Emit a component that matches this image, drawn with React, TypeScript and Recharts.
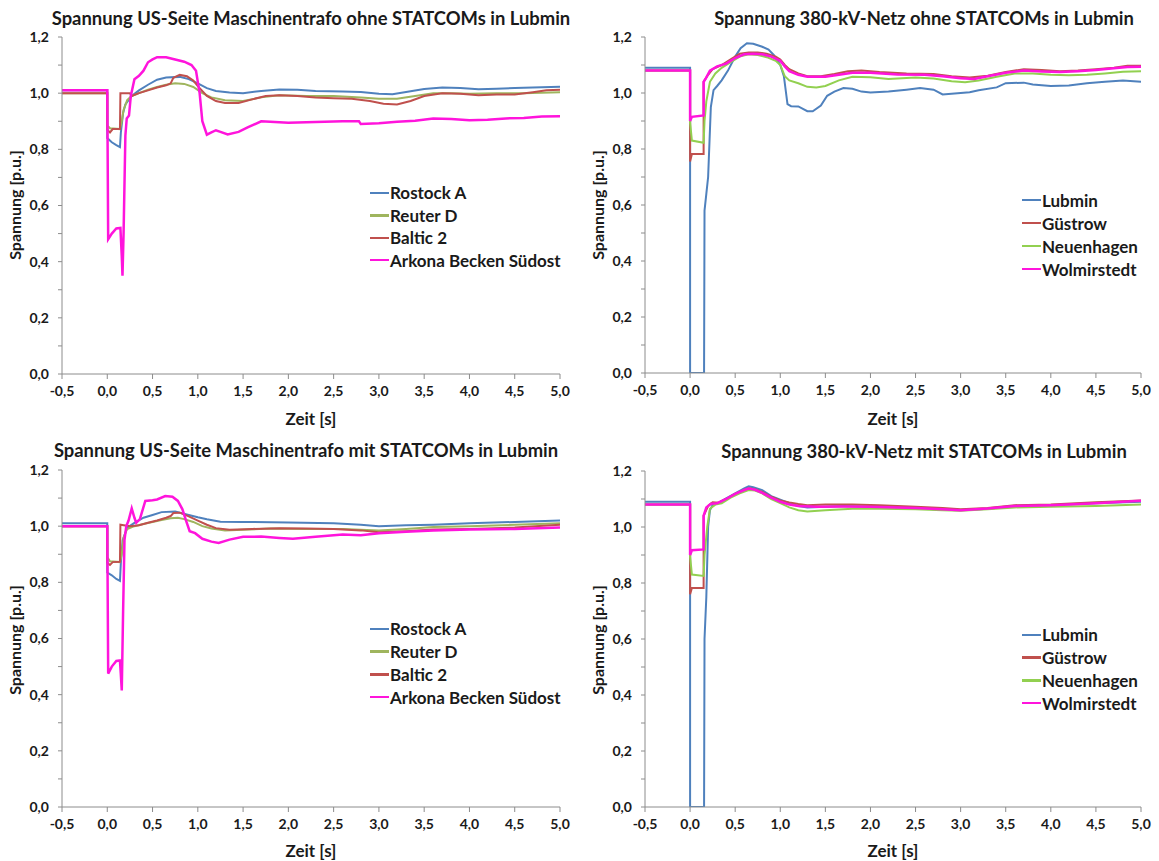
import React from 'react';
import { LineChart, Line, XAxis, YAxis, Legend } from 'recharts';

type Pt = [number, number];

const timeTicks = [-0.5, 0, 0.5, 1, 1.5, 2, 2.5, 3, 3.5, 4, 4.5, 5];
const voltTicks = [0, 0.1, 0.2, 0.3, 0.4, 0.5, 0.6, 0.7, 0.8, 0.9, 1, 1.1, 1.2];

// US-Seite Maschinentrafo, ohne STATCOMs
const rostockOhne: Pt[] = [[-0.5,1.01],[0,1.01],[0,0.84],[0.05,0.825],[0.1,0.815],[0.14,0.808],[0.15,0.86],[0.175,0.93],[0.2,0.96],[0.27,0.99],[0.35,1.01],[0.45,1.03],[0.55,1.048],[0.65,1.056],[0.8,1.058],[0.9,1.05],[1.0,1.035],[1.1,1.018],[1.2,1.008],[1.35,1.002],[1.5,1.0],[1.7,1.008],[1.9,1.013],[2.1,1.012],[2.3,1.008],[2.6,1.006],[2.8,1.004],[3.0,0.998],[3.15,0.996],[3.3,1.004],[3.5,1.015],[3.7,1.02],[3.9,1.018],[4.1,1.014],[4.3,1.016],[4.5,1.018],[4.7,1.02],[5.0,1.023]];
const reuterOhne: Pt[] = [[-0.5,1.0],[0,1.0],[0,0.885],[0.03,0.875],[0.14,0.872],[0.16,0.9],[0.18,0.94],[0.22,0.975],[0.27,0.99],[0.35,1.0],[0.45,1.012],[0.55,1.022],[0.65,1.03],[0.75,1.035],[0.85,1.033],[0.95,1.022],[1.05,1.0],[1.15,0.985],[1.3,0.975],[1.5,0.972],[1.7,0.985],[1.9,0.993],[2.2,0.99],[2.5,0.99],[2.8,0.985],[3.0,0.98],[3.2,0.98],[3.4,0.99],[3.6,1.0],[3.8,1.0],[4.0,0.998],[4.3,1.0],[4.6,1.0],[5.0,1.003]];
const balticOhne: Pt[] = [[-0.5,1.0],[0,1.0],[0,0.87],[0.03,0.86],[0.06,0.872],[0.14,0.872],[0.145,1.0],[0.25,1.0],[0.27,0.99],[0.35,1.0],[0.45,1.01],[0.55,1.02],[0.65,1.028],[0.7,1.035],[0.73,1.055],[0.8,1.065],[0.88,1.06],[0.95,1.045],[1.0,1.025],[1.1,0.99],[1.2,0.972],[1.3,0.965],[1.45,0.965],[1.6,0.978],[1.75,0.99],[1.9,0.993],[2.1,0.99],[2.3,0.985],[2.5,0.982],[2.7,0.98],[2.9,0.972],[3.05,0.962],[3.2,0.96],[3.35,0.972],[3.5,0.99],[3.7,1.0],[3.9,0.998],[4.1,0.993],[4.3,0.995],[4.5,0.995],[4.7,1.003],[4.85,1.01],[5.0,1.012]];
const arkonaOhne: Pt[] = [[-0.5,1.01],[0,1.01],[0.01,0.48],[0.05,0.5],[0.1,0.518],[0.145,0.52],[0.16,0.42],[0.168,0.35],[0.18,0.5],[0.2,0.85],[0.215,0.91],[0.24,0.92],[0.26,0.99],[0.3,1.05],[0.35,1.062],[0.4,1.08],[0.45,1.11],[0.5,1.12],[0.55,1.128],[0.65,1.128],[0.75,1.12],[0.85,1.112],[0.93,1.1],[0.98,1.08],[1.02,1.0],[1.05,0.9],[1.1,0.852],[1.15,0.86],[1.2,0.868],[1.25,0.862],[1.33,0.853],[1.45,0.862],[1.55,0.878],[1.7,0.9],[1.8,0.898],[2.0,0.895],[2.3,0.897],[2.6,0.9],[2.78,0.9],[2.8,0.89],[3.0,0.893],[3.2,0.898],[3.4,0.902],[3.6,0.91],[3.8,0.908],[4.0,0.904],[4.2,0.905],[4.4,0.91],[4.6,0.912],[4.8,0.917],[5.0,0.918]];

// 380-kV-Netz, ohne STATCOMs
const lubminOhne: Pt[] = [[-0.5,1.09],[0,1.09],[0,0],[0.155,0],[0.16,0.58],[0.18,0.64],[0.2,0.7],[0.23,0.95],[0.26,1.01],[0.3,1.025],[0.35,1.045],[0.42,1.08],[0.5,1.13],[0.56,1.16],[0.63,1.178],[0.7,1.176],[0.8,1.165],[0.87,1.155],[0.93,1.135],[1.0,1.1],[1.04,1.06],[1.08,0.96],[1.12,0.953],[1.2,0.952],[1.3,0.935],[1.36,0.935],[1.45,0.955],[1.52,0.99],[1.6,1.005],[1.7,1.018],[1.8,1.015],[1.9,1.005],[2.0,1.002],[2.2,1.005],[2.4,1.012],[2.55,1.018],[2.7,1.012],[2.8,0.995],[3.0,1.0],[3.1,1.003],[3.2,1.01],[3.4,1.02],[3.5,1.035],[3.7,1.037],[3.8,1.03],[4.0,1.025],[4.2,1.027],[4.4,1.035],[4.6,1.04],[4.8,1.045],[5.0,1.04]];
const guestrowOhne: Pt[] = [[-0.5,1.08],[0,1.08],[0,0.755],[0.02,0.782],[0.15,0.782],[0.15,1.04],[0.2,1.065],[0.25,1.085],[0.35,1.1],[0.45,1.12],[0.55,1.14],[0.65,1.145],[0.75,1.145],[0.85,1.14],[0.95,1.13],[1.0,1.12],[1.05,1.1],[1.1,1.085],[1.2,1.07],[1.3,1.06],[1.45,1.06],[1.6,1.068],[1.75,1.078],[1.9,1.08],[2.1,1.075],[2.4,1.07],[2.7,1.068],[2.9,1.06],[3.1,1.055],[3.3,1.062],[3.5,1.075],[3.7,1.085],[3.9,1.082],[4.1,1.078],[4.3,1.08],[4.5,1.085],[4.7,1.09],[4.85,1.097],[5.0,1.097]];
const neuenhagenOhne: Pt[] = [[-0.5,1.08],[0,1.08],[0,0.895],[0.02,0.83],[0.15,0.822],[0.16,0.9],[0.18,0.97],[0.22,1.04],[0.28,1.07],[0.35,1.09],[0.45,1.11],[0.55,1.13],[0.65,1.138],[0.75,1.136],[0.85,1.128],[0.95,1.115],[1.0,1.1],[1.05,1.06],[1.1,1.045],[1.2,1.035],[1.3,1.022],[1.4,1.02],[1.5,1.025],[1.65,1.045],[1.8,1.058],[2.0,1.056],[2.2,1.05],[2.5,1.055],[2.7,1.052],[2.9,1.042],[3.05,1.038],[3.2,1.045],[3.4,1.058],[3.6,1.07],[3.8,1.07],[4.0,1.065],[4.2,1.063],[4.4,1.065],[4.6,1.07],[4.8,1.076],[5.0,1.078]];
const wolmirstedtOhne: Pt[] = [[-0.5,1.08],[0,1.08],[0,0.9],[0.02,0.915],[0.15,0.92],[0.15,1.04],[0.17,1.05],[0.22,1.08],[0.3,1.095],[0.4,1.105],[0.5,1.125],[0.6,1.138],[0.7,1.14],[0.8,1.138],[0.9,1.13],[1.0,1.115],[1.05,1.095],[1.1,1.078],[1.2,1.065],[1.3,1.058],[1.5,1.058],[1.65,1.065],[1.8,1.072],[2.0,1.072],[2.3,1.066],[2.6,1.065],[2.8,1.06],[3.0,1.053],[3.15,1.05],[3.3,1.06],[3.5,1.072],[3.7,1.08],[3.9,1.077],[4.1,1.075],[4.3,1.078],[4.5,1.082],[4.7,1.088],[4.85,1.093],[5.0,1.094]];

// US-Seite Maschinentrafo, mit STATCOMs
const rostockMit: Pt[] = [[-0.5,1.01],[0,1.01],[0,0.835],[0.05,0.825],[0.1,0.812],[0.14,0.805],[0.15,0.87],[0.17,0.95],[0.22,0.995],[0.3,1.012],[0.4,1.03],[0.5,1.04],[0.6,1.05],[0.75,1.052],[0.9,1.04],[1.0,1.032],[1.1,1.025],[1.25,1.016],[1.5,1.015],[2.0,1.013],[2.5,1.01],[2.8,1.005],[3.0,1.0],[3.3,1.003],[3.6,1.005],[4.0,1.01],[4.5,1.015],[5.0,1.02]];
const reuterMit: Pt[] = [[-0.5,1.0],[0,1.0],[0,0.89],[0.03,0.875],[0.14,0.872],[0.16,0.9],[0.18,0.96],[0.22,0.99],[0.3,1.0],[0.4,1.008],[0.5,1.015],[0.6,1.022],[0.7,1.028],[0.78,1.03],[0.85,1.025],[0.95,1.015],[1.05,1.0],[1.15,0.992],[1.3,0.985],[1.5,0.987],[1.8,0.992],[2.2,0.99],[2.6,0.99],[3.0,0.985],[3.3,0.99],[3.6,0.997],[4.0,1.0],[4.5,1.005],[5.0,1.01]];
const balticMit: Pt[] = [[-0.5,1.0],[0,1.0],[0,0.87],[0.03,0.862],[0.06,0.872],[0.14,0.873],[0.145,1.005],[0.25,1.0],[0.35,1.003],[0.45,1.012],[0.55,1.02],[0.65,1.03],[0.7,1.036],[0.73,1.047],[0.8,1.048],[0.9,1.035],[1.0,1.02],[1.1,1.005],[1.2,0.993],[1.35,0.987],[1.6,0.99],[1.9,0.993],[2.2,0.992],[2.5,0.99],[2.8,0.985],[3.0,0.978],[3.3,0.982],[3.6,0.988],[4.0,0.99],[4.5,0.995],[5.0,1.005]];
const arkonaMit: Pt[] = [[-0.5,1.0],[0,1.0],[0.01,0.475],[0.05,0.5],[0.1,0.52],[0.14,0.522],[0.15,0.47],[0.16,0.415],[0.175,0.7],[0.19,0.95],[0.21,1.0],[0.235,1.02],[0.27,1.063],[0.3,1.03],[0.32,1.012],[0.36,1.025],[0.42,1.09],[0.5,1.092],[0.55,1.095],[0.64,1.107],[0.72,1.105],[0.78,1.09],[0.83,1.06],[0.87,1.02],[0.91,0.982],[0.97,0.975],[1.05,0.955],[1.15,0.945],[1.23,0.94],[1.35,0.952],[1.5,0.962],[1.7,0.963],[1.9,0.958],[2.05,0.955],[2.3,0.962],[2.6,0.97],[2.8,0.968],[3.0,0.975],[3.3,0.98],[3.6,0.985],[4.0,0.988],[4.5,0.99],[5.0,0.995]];

// 380-kV-Netz, mit STATCOMs
const lubminMit: Pt[] = [[-0.5,1.09],[0,1.09],[0,0],[0.155,0],[0.16,0.6],[0.18,0.75],[0.2,1.0],[0.22,1.06],[0.26,1.085],[0.32,1.087],[0.4,1.102],[0.5,1.12],[0.6,1.138],[0.65,1.145],[0.7,1.142],[0.8,1.132],[0.9,1.11],[1.0,1.098],[1.1,1.085],[1.2,1.075],[1.3,1.07],[1.5,1.072],[1.7,1.075],[2.0,1.072],[2.5,1.068],[2.8,1.062],[3.0,1.06],[3.3,1.065],[3.6,1.075],[4.0,1.078],[4.5,1.085],[5.0,1.09]];
const guestrowMit: Pt[] = [[-0.5,1.08],[0,1.08],[0,0.76],[0.02,0.782],[0.15,0.782],[0.15,1.04],[0.2,1.075],[0.25,1.088],[0.32,1.087],[0.4,1.1],[0.5,1.118],[0.6,1.132],[0.65,1.138],[0.72,1.135],[0.8,1.125],[0.9,1.108],[1.0,1.095],[1.1,1.088],[1.2,1.082],[1.3,1.078],[1.5,1.08],[1.8,1.08],[2.1,1.078],[2.5,1.072],[2.8,1.068],[3.0,1.063],[3.3,1.068],[3.6,1.078],[4.0,1.08],[4.5,1.088],[5.0,1.095]];
const neuenhagenMit: Pt[] = [[-0.5,1.08],[0,1.08],[0,0.895],[0.02,0.83],[0.15,0.825],[0.16,0.9],[0.19,1.0],[0.22,1.065],[0.28,1.08],[0.35,1.085],[0.45,1.105],[0.55,1.12],[0.65,1.132],[0.72,1.13],[0.8,1.12],[0.9,1.1],[1.0,1.085],[1.1,1.07],[1.2,1.06],[1.3,1.055],[1.5,1.06],[1.8,1.065],[2.1,1.065],[2.5,1.063],[2.8,1.06],[3.0,1.058],[3.3,1.063],[3.6,1.07],[4.0,1.072],[4.5,1.075],[5.0,1.08]];
const wolmirstedtMit: Pt[] = [[-0.5,1.08],[0,1.08],[0,0.9],[0.02,0.917],[0.15,0.92],[0.15,1.04],[0.18,1.07],[0.23,1.083],[0.3,1.085],[0.4,1.1],[0.5,1.118],[0.6,1.132],[0.65,1.137],[0.72,1.133],[0.8,1.122],[0.9,1.105],[1.0,1.09],[1.1,1.08],[1.2,1.075],[1.4,1.072],[1.7,1.073],[2.0,1.072],[2.5,1.068],[2.8,1.063],[3.0,1.06],[3.3,1.066],[3.6,1.075],[4.0,1.078],[4.5,1.085],[5.0,1.094]];

const BLUE = '#4F81BD';
const RED = '#C0504D';
const OLIVE = '#9FB55E';
const LIME = '#92D050';
const PINK = '#FF14DC';
const AXIS = '#8C8C8C';
const FONT = 'Lato, "Open Sans", sans-serif';

type Series = { name: string; color: string; width: number; points: Pt[] };

const fmtX = (v: number) => v.toFixed(1).replace('.', ',');
const fmtY = (v: number) => (Math.round(v * 10) % 2 === 0 ? v.toFixed(1).replace('.', ',') : '');

function Txt({ x, y, size, rotate, children }: { x: number; y: number; size: number; rotate?: boolean; children: React.ReactNode }) {
  return (
    <div
      style={{
        position: 'absolute',
        left: x,
        top: y,
        transform: `translate(-50%, -50%)${rotate ? ' rotate(-90deg)' : ''}`,
        whiteSpace: 'nowrap',
        fontFamily: FONT,
        fontWeight: 700,
        fontSize: size,
        color: '#1a1a1a',
        lineHeight: 1,
      }}
    >
      {children}
    </div>
  );
}

type PanelProps = {
  left: number;
  top: number;
  width: number;
  height: number;
  margin: { top: number; right: number; bottom: number; left: number };
  series: Series[];
  legendX: number;
  legendY: number;
  rowH: number;
};

function Panel({ left, top, width, height, margin, series, legendX, legendY, rowH }: PanelProps) {
  const renderLegend = () => (
    <div style={{ fontFamily: FONT, fontWeight: 700, fontSize: 17, color: '#1a1a1a' }}>
      {series.map((s) => (
        <div key={s.name} style={{ display: 'flex', alignItems: 'center', height: rowH }}>
          <span style={{ display: 'inline-block', width: 19, height: 2.5, background: s.color, marginRight: 1 }} />
          <span>{s.name}</span>
        </div>
      ))}
    </div>
  );
  return (
    <div style={{ position: 'absolute', left, top }}>
      <LineChart width={width} height={height} margin={margin}>
        <XAxis
          type="number"
          dataKey="t"
          domain={[-0.5, 5]}
          ticks={timeTicks}
          interval={0}
          allowDataOverflow
          tickFormatter={fmtX}
          height={30}
          tickSize={5}
          tickMargin={7}
          stroke={AXIS}
          tick={{ fill: '#1a1a1a', fontSize: 14, fontWeight: 700, fontFamily: FONT }}
        />
        <YAxis
          type="number"
          dataKey="v"
          domain={[0, 1.2]}
          ticks={voltTicks}
          interval={0}
          allowDataOverflow
          tickFormatter={fmtY}
          width={40}
          tickSize={4}
          tickMargin={9}
          stroke={AXIS}
          tick={{ fill: '#1a1a1a', fontSize: 14, fontWeight: 700, fontFamily: FONT }}
        />
        {series.map((s) => (
          <Line
            key={s.name}
            name={s.name}
            data={s.points.map(([t, v]) => ({ t, v }))}
            dataKey="v"
            type="linear"
            stroke={s.color}
            strokeWidth={s.width}
            dot={false}
            activeDot={false}
            isAnimationActive={false}
          />
        ))}
        <Legend
          layout="vertical"
          align="center"
          verticalAlign="middle"
          content={renderLegend}
          wrapperStyle={{ left: legendX - left, top: legendY - top - rowH / 2, width: 'auto' }}
        />
      </LineChart>
    </div>
  );
}

const usOhne: Series[] = [
  { name: 'Rostock A', color: BLUE, width: 2, points: rostockOhne },
  { name: 'Reuter D', color: OLIVE, width: 2, points: reuterOhne },
  { name: 'Baltic 2', color: RED, width: 2, points: balticOhne },
  { name: 'Arkona Becken Südost', color: PINK, width: 2.5, points: arkonaOhne },
];
const netzOhne: Series[] = [
  { name: 'Lubmin', color: BLUE, width: 2, points: lubminOhne },
  { name: 'Güstrow', color: RED, width: 2, points: guestrowOhne },
  { name: 'Neuenhagen', color: LIME, width: 2, points: neuenhagenOhne },
  { name: 'Wolmirstedt', color: PINK, width: 2.5, points: wolmirstedtOhne },
];
const usMit: Series[] = [
  { name: 'Rostock A', color: BLUE, width: 2, points: rostockMit },
  { name: 'Reuter D', color: OLIVE, width: 2, points: reuterMit },
  { name: 'Baltic 2', color: RED, width: 2, points: balticMit },
  { name: 'Arkona Becken Südost', color: PINK, width: 2.5, points: arkonaMit },
];
const netzMit: Series[] = [
  { name: 'Lubmin', color: BLUE, width: 2, points: lubminMit },
  { name: 'Güstrow', color: RED, width: 2, points: guestrowMit },
  { name: 'Neuenhagen', color: LIME, width: 2, points: neuenhagenMit },
  { name: 'Wolmirstedt', color: PINK, width: 2.5, points: wolmirstedtMit },
];

export default function App() {
  return (
    <div style={{ position: 'absolute', left: 0, top: 0, width: 1159, height: 861, background: '#fff', overflow: 'hidden' }}>
      <Panel left={0} top={0} width={580} height={430} margin={{ top: 37, right: 20, bottom: 26, left: 22 }} series={usOhne} legendX={370} legendY={193} rowH={22.4} />
      <Panel left={580} top={0} width={579} height={430} margin={{ top: 37, right: 18, bottom: 27, left: 25 }} series={netzOhne} legendX={1022} legendY={200} rowH={23} />
      <Panel left={0} top={430} width={580} height={431} margin={{ top: 40, right: 20, bottom: 24, left: 22 }} series={usMit} legendX={370} legendY={629} rowH={22.7} />
      <Panel left={580} top={430} width={579} height={431} margin={{ top: 41, right: 18, bottom: 24, left: 25 }} series={netzMit} legendX={1022} legendY={635} rowH={22.7} />

      <Txt x={311} y={18} size={18.4}>Spannung US-Seite Maschinentrafo ohne STATCOMs in Lubmin</Txt>
      <Txt x={924} y={18} size={18.4}>Spannung 380-kV-Netz ohne STATCOMs in Lubmin</Txt>
      <Txt x={306} y={450} size={18.4}>Spannung US-Seite Maschinentrafo mit STATCOMs in Lubmin</Txt>
      <Txt x={924} y={451} size={18.4}>Spannung 380-kV-Netz mit STATCOMs in Lubmin</Txt>

      <Txt x={15} y={205} size={16} rotate>Spannung [p.u.]</Txt>
      <Txt x={598} y={205} size={16} rotate>Spannung [p.u.]</Txt>
      <Txt x={15} y={640} size={16} rotate>Spannung [p.u.]</Txt>
      <Txt x={598} y={640} size={16} rotate>Spannung [p.u.]</Txt>

      <Txt x={311} y={418} size={17}>Zeit [s]</Txt>
      <Txt x={893} y={418} size={17}>Zeit [s]</Txt>
      <Txt x={311} y={850} size={17}>Zeit [s]</Txt>
      <Txt x={893} y={850} size={17}>Zeit [s]</Txt>
    </div>
  );
}
